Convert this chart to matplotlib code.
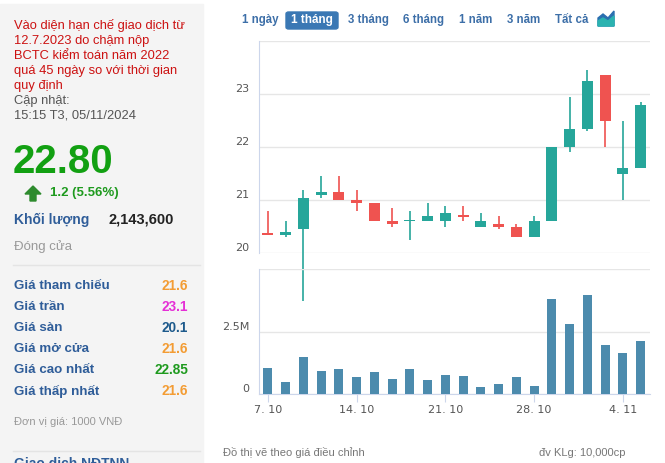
import matplotlib
matplotlib.use("Agg")
import matplotlib.pyplot as plt
from matplotlib.patches import Rectangle, Polygon, FancyBboxPatch
from matplotlib.transforms import ScaledTranslation

plt.rcParams['font.family'] = ['Liberation Sans', 'DejaVu Sans']

# trading days, 07.10.2024 - 05.11.2024
dates = ["7.10", "8.10", "9.10", "10.10", "11.10",
         "14.10", "15.10", "16.10", "17.10", "18.10",
         "21.10", "22.10", "23.10", "24.10", "25.10",
         "28.10", "29.10", "30.10", "31.10", "1.11",
         "4.11", "5.11"]
opens = [20.37, 20.35, 20.45, 21.10, 21.15, 21.00, 20.95, 20.60, 20.60, 20.60,
         20.60, 20.72, 20.50, 20.55, 20.50, 20.30, 20.60, 22.00, 22.35, 23.35,
         21.50, 21.60]
highs = [20.80, 20.60, 21.20, 21.45, 21.45, 21.20, 20.95, 20.85, 20.80, 20.95,
         20.90, 20.90, 20.75, 20.70, 20.55, 20.70, 22.00, 22.95, 23.45, 23.35,
         22.50, 22.85]
lows = [20.35, 20.30, 19.10, 21.05, 21.00, 20.80, 20.60, 20.50, 20.25, 20.60,
        20.50, 20.60, 20.50, 20.45, 20.30, 20.30, 20.60, 21.90, 22.30, 22.00,
        21.00, 21.60]
closes = [20.35, 20.40, 21.05, 21.15, 21.00, 20.95, 20.60, 20.55, 20.60, 20.70,
          20.75, 20.68, 20.60, 20.50, 20.30, 20.60, 22.00, 22.35, 23.25, 22.50,
          21.60, 22.80]
volumes = [1.06, 0.49, 1.50, 0.94, 1.02, 0.70, 0.90, 0.62, 1.02, 0.58,
           0.78, 0.74, 0.29, 0.41, 0.70, 0.33, 3.83, 2.82, 3.99, 1.98,
           1.66, 2.14]  # millions

tick_idx = [0, 5, 10, 15, 20]
tick_labels = ["7. 10", "14. 10", "21. 10", "28. 10", "4. 11"]
price_ticks = [20, 21, 22, 23]

periods = ["1 ngày", "1 tháng", "3 tháng", "6 tháng", "1 năm", "3 năm", "Tất cả"]
period_x = [242, 290, 348, 403, 459, 507, 555]
selected = "1 tháng"

notice = ["Vào diện hạn chế giao dịch từ", "12.7.2023 do chậm nộp",
          "BCTC kiểm toán năm 2022", "quá 45 ngày so với thời gian", "quy định"]
stat_names = ["Giá tham chiếu", "Giá trần", "Giá sàn", "Giá mở cửa",
              "Giá cao nhất", "Giá thấp nhất"]
stat_values = ["21.6", "23.1", "20.1", "21.6", "22.85", "21.6"]
stat_colors = ["#f39c33", "#e52fd6", "#1d5a8c", "#f39c33", "#1e9a1e", "#f39c33"]

W, H = 665, 463
UP = "#26a69a"
DOWN = "#ef5350"
GRID = "#e6e6e6"
AXIS = "#ccd6eb"
BLUE = "#2f5d99"


def fx(px):
    return px / W


def fy(py):
    return 1 - py / H


fig = plt.figure(figsize=(W / 100, H / 100), dpi=100)

# left info panel
fig.patches.append(Rectangle((0, 0), fx(203), fy(4), transform=fig.transFigure,
                             color="#f4f4f4", zorder=0))
for yy in [265, 451]:
    fig.add_artist(plt.Line2D([fx(13), fx(200)], [fy(yy), fy(yy)],
                              transform=fig.transFigure, color="#e4e4e4", lw=1))

for i, line in enumerate(notice):
    fig.text(fx(14), fy(26 + 15 * i), line, color="#cc1111", fontsize=9.3, va="center")
fig.text(fx(14), fy(101), "Cập nhật:", color="#555555", fontsize=9.3, va="center")
fig.text(fx(14), fy(116), "15:15 T3, 05/11/2024", color="#555555", fontsize=9.3, va="center")

fig.text(fx(13), fy(162), "22.80", color="#12a012", fontsize=29, fontweight="bold", va="center")
arrow = [(25, 194), (33, 186), (41, 194), (36, 194), (36, 201), (30, 201), (30, 194)]
fig.patches.append(Polygon([(fx(a), fy(b)) for a, b in arrow], closed=True,
                           transform=fig.transFigure, color="#2e8b2e"))
fig.text(fx(50), fy(193), "1.2 (5.56%)", color="#1e9a1e", fontsize=9.5,
         fontweight="bold", va="center")
fig.text(fx(14), fy(220), "Khối lượng", color=BLUE, fontsize=10, fontweight="bold", va="center")
fig.text(fx(108), fy(219), "2,143,600", color="#222222", fontsize=10.5,
         fontweight="bold", va="center")
fig.text(fx(14), fy(247), "Đóng cửa", color="#999999", fontsize=9.5, va="center")

for i, (n, v, c) in enumerate(zip(stat_names, stat_values, stat_colors)):
    yy = 286 + 21 * i
    fig.text(fx(14), fy(yy), n, color=BLUE, fontsize=9.6, fontweight="bold", va="center")
    fig.text(fx(188), fy(yy), v, color=c, fontsize=9.8, fontweight="bold",
             va="center", ha="right")
fig.text(fx(14), fy(422), "Đơn vị giá: 1000 VNĐ", color="#999999", fontsize=8, va="center")
fig.text(fx(14), fy(457), "Giao dịch NĐTNN", color=BLUE, fontsize=10,
         fontweight="bold", va="top")

# period buttons
for name, px in zip(periods, period_x):
    if name == selected:
        fig.patches.append(FancyBboxPatch((fx(286), fy(29)), fx(52), 17 / H,
                                          boxstyle="round,pad=0,rounding_size=0.004",
                                          transform=fig.transFigure,
                                          color="#3a78b4"))
        fig.text(fx(312), fy(20), name, color="white", fontsize=8.5,
                 fontweight="bold", va="center", ha="center")
    else:
        fig.text(fx(px), fy(20), name, color="#3d6fa8", fontsize=8.3,
                 fontweight="bold", va="center")
icon_top = [(598, 26), (598, 18), (603, 14), (608, 18), (614, 11), (614, 26)]
icon_low = [(598, 26), (598, 21), (603, 18), (608, 21), (614, 16), (614, 26)]
fig.patches.append(Polygon([(fx(a), fy(b)) for a, b in icon_top], transform=fig.transFigure,
                           color="#2a6fb0"))
fig.patches.append(Polygon([(fx(a), fy(b)) for a, b in icon_low], transform=fig.transFigure,
                           color="#2bb3b0"))

# chart axes
left, right = 259, 649.5
ax = fig.add_axes([fx(left), fy(253.3), (right - left) / W, (253.3 - 41) / H])
axv = fig.add_axes([fx(left), fy(394.3), (right - left) / W, (394.3 - 269.3) / H])

x = list(range(len(dates)))
shift = ScaledTranslation(0, 0.06, fig.dpi_scale_trans)
tick_font = ['DejaVu Sans']

# candles
for i in x:
    o, hi, lo, c = opens[i], highs[i], lows[i], closes[i]
    col = UP if c >= o else DOWN
    ax.vlines(i, lo, hi, color=col, lw=1.2, clip_on=False, zorder=3)
    body = max(abs(c - o), 0.025)
    ax.bar(i, body, bottom=min(o, c), width=0.62, color=col, zorder=4, clip_on=False)

ax.set_xlim(-0.5, len(dates) - 0.5)
ax.set_ylim(20, 24)
ax.set_yticks(price_ticks + [24])
ax.set_yticklabels([str(t) for t in price_ticks] + [""], family=tick_font)
ax.set_xticks([])
ax.grid(axis="y", color=GRID, lw=1)
ax.set_axisbelow(True)
for s in ["top", "right", "bottom"]:
    ax.spines[s].set_visible(False)
ax.spines["left"].set_color(AXIS)
ax.tick_params(axis="y", length=0, pad=7, labelsize=8, labelcolor="#555555")
for lab in ax.get_yticklabels():
    lab.set_transform(lab.get_transform() + shift)
ax.patch.set_alpha(0)

# volume
axv.bar(x, volumes, width=0.5, color="#4c8bad", zorder=3)
axv.set_xlim(-0.5, len(dates) - 0.5)
axv.set_ylim(0, 5)
axv.set_yticks([0, 2.5, 5])
axv.set_yticklabels(["0", "2.5M", ""], family=tick_font)
axv.grid(axis="y", color=GRID, lw=1)
axv.set_axisbelow(True)
axv.set_xticks(tick_idx)
axv.set_xticklabels(tick_labels, family=tick_font)
for s in ["top", "right"]:
    axv.spines[s].set_visible(False)
axv.spines["left"].set_color(AXIS)
axv.spines["bottom"].set_color(AXIS)
axv.tick_params(axis="y", length=0, pad=7, labelsize=8, labelcolor="#555555")
axv.tick_params(axis="x", length=6, color=AXIS, pad=2, labelsize=8, labelcolor="#555555")
for lab in axv.get_yticklabels():
    lab.set_transform(lab.get_transform() + shift)
axv.patch.set_alpha(0)

fig.text(fx(223), fy(453), "Đồ thị vẽ theo giá điều chỉnh", color="#777777",
         fontsize=8, va="center")
fig.text(fx(539), fy(453), "đv KLg: 10,000cp", color="#777777", fontsize=8, va="center")

fig.savefig("out.png", dpi=100)
